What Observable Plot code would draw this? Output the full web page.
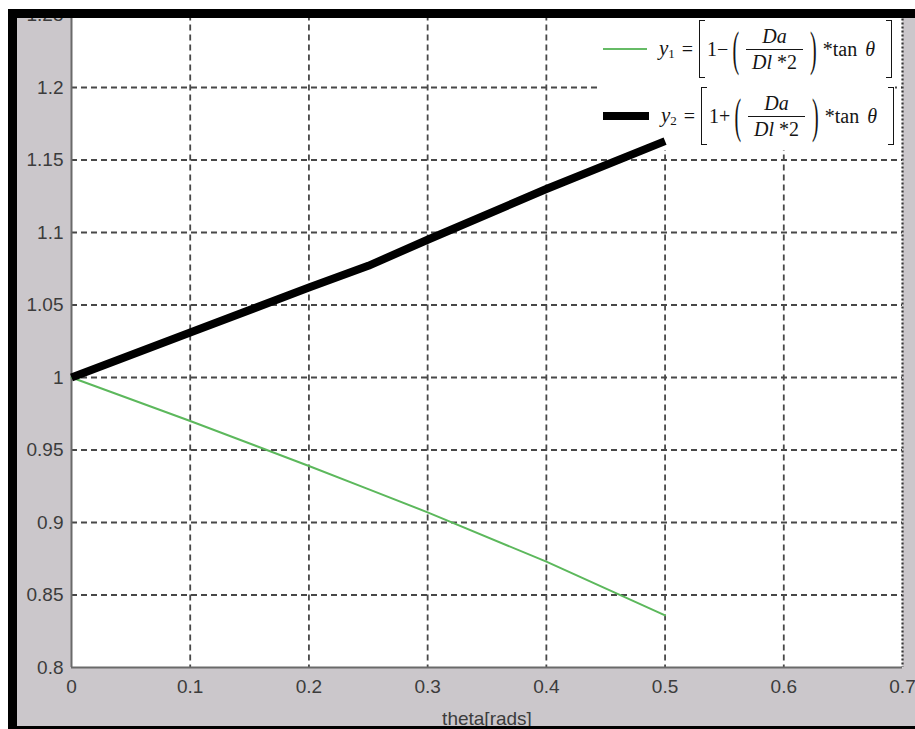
<!DOCTYPE html>
<html>
<head>
<meta charset="utf-8">
<script src="https://cdn.jsdelivr.net/npm/d3@7"></script>
<script src="https://cdn.jsdelivr.net/npm/@observablehq/plot@0.6"></script>
<style>
  html, body { margin: 0; padding: 0; background: white; width: 915px; height: 729px; overflow: hidden; }
  #chart, #lineLayer { position: absolute; left: 0; top: 0; }
  .ov { position: absolute; }
  #legend { position: absolute; left: 597px; top: 18px; width: 298px; height: 132px; background: white; }
  .row { position: absolute; left: 603px; height: 58px; display: flex; align-items: center;
         font-family: "Liberation Serif", "DejaVu Serif", serif; font-size: 20px; color: #151515; }
  .sw { display: inline-block; margin-right: 12px; }
  .lhs { margin-right: 7px; font-size: 21px; }
  .lhs sub { font-size: 13px; font-style: normal; vertical-align: -3px; }
  .eq { margin-right: 6px; }
  .brk { display: inline-block; width: 6px; height: 58px; border: 1.6px solid #151515; box-sizing: border-box; }
  .brk.l { border-right: none; margin-right: 2px; }
  .brk.r { border-left: none; margin-left: 11px; }
  .paren { display: inline-block; font-size: 20px; transform: scale(1, 2.4); margin: 0 4px; }
  .frac { display: inline-flex; flex-direction: column; align-items: center; margin: 0 5px; }
  .frac .num { border-bottom: 1px solid #151515; padding: 0 2px 2px 2px; width: 100%; text-align: center; line-height: 21px; }
  .frac .den { line-height: 21px; padding: 2px 4px 0 4px; }
  .tan { word-spacing: 3px; margin-left: 2px; }
</style>
</head>
<body>
<div id="chart"></div>
<div id="legend"></div>
<div class="row" style="top:20px">
  <span class="sw" style="width:44px;height:2px;background:#66bb66"></span>
  <span class="lhs"><i>y</i><sub>1</sub></span>
  <span class="eq">=</span>
  <span class="brk l"></span>
  <span>1−</span>
  <span class="paren">(</span>
  <span class="frac"><span class="num"><i>Da</i></span><span class="den"><i>Dl</i> *2</span></span>
  <span class="paren">)</span>
  <span class="tan">*tan <i>θ</i></span>
  <span class="brk r"></span>
</div>
<div class="row" style="top:87px">
  <span class="sw" style="width:46px;height:8px;background:#000"></span>
  <span class="lhs"><i>y</i><sub>2</sub></span>
  <span class="eq">=</span>
  <span class="brk l"></span>
  <span>1+</span>
  <span class="paren">(</span>
  <span class="frac"><span class="num"><i>Da</i></span><span class="den"><i>Dl</i> *2</span></span>
  <span class="paren">)</span>
  <span class="tan">*tan <i>θ</i></span>
  <span class="brk r"></span>
</div>
<div id="lineLayer"></div>
<!-- image border overlays -->
<div class="ov" style="left:0;top:0;width:915px;height:9px;background:white"></div>
<div class="ov" style="left:0;top:0;width:8px;height:729px;background:white"></div>
<div class="ov" style="left:8px;top:9px;width:907px;height:9px;background:#000"></div>
<div class="ov" style="left:8px;top:9px;width:9px;height:720px;background:#000"></div>
<div class="ov" style="left:8px;top:726px;width:907px;height:3px;background:#000"></div>
<script>
// ---- data ----
const theta = [0, 0.1, 0.2, 0.25, 0.3, 0.4, 0.5];
const y1Values = [1.0, 0.970, 0.939, 0.923, 0.907, 0.873, 0.836];
const y2Values = [1.0, 1.031, 1.062, 1.077, 1.095, 1.130, 1.163];
const xTicks = [0, 0.1, 0.2, 0.3, 0.4, 0.5, 0.6, 0.7];
const xTickLabels = ["0", "0.1", "0.2", "0.3", "0.4", "0.5", "0.6", "0.7"];
const yTicks = [0.8, 0.85, 0.9, 0.95, 1.0, 1.05, 1.1, 1.15, 1.2, 1.25];
const yTickLabels = ["0.8", "0.85", "0.9", "0.95", "1", "1.05", "1.1", "1.15", "1.2", "1.25"];
const xLabel = ["theta[rads]"];

const series1 = theta.map((t, i) => ({theta: t, y: y1Values[i]}));
const series2 = theta.map((t, i) => ({theta: t, y: y2Values[i]}));
const xGrid = xTicks.filter(t => t > 0 && t < 0.7);
const yGrid = yTicks.filter(t => t > 0.8);

const gridStyle = {stroke: "#484848", strokeOpacity: 1, strokeWidth: 1.8, strokeDasharray: "6,4"};

const layout = {
  width: 915,
  height: 729,
  marginLeft: 71,
  marginRight: 13,
  marginTop: 14.5,
  marginBottom: 62
};

const chart = Plot.plot({
  ...layout,
  style: {
    background: "#cbc7cb",
    fontFamily: "'Liberation Sans', Arial, sans-serif",
    fontSize: "19px",
    color: "#3c3c3c"
  },
  x: {
    domain: [0, 0.7],
    ticks: xTicks,
    tickSize: 0,
    tickPadding: 12,
    tickFormat: d => xTickLabels[xTicks.indexOf(d)],
    label: null
  },
  y: {
    domain: [0.8, 1.25],
    ticks: yTicks,
    tickSize: 0,
    tickPadding: 8,
    tickFormat: d => yTickLabels[yTicks.indexOf(d)],
    label: null
  },
  marks: [
    Plot.frame({fill: "white", stroke: "none"}),
    Plot.ruleX(xGrid, gridStyle),
    Plot.ruleY(yGrid, gridStyle),
    Plot.ruleX([0.7], {stroke: "#333", strokeWidth: 2.2, strokeDasharray: "2,2"}),
    Plot.ruleX([0], {stroke: "#6a6a6a", strokeWidth: 2}),
    Plot.ruleY([0.8], {stroke: "#6a6a6a", strokeWidth: 2}),
    Plot.line(series1, {x: "theta", y: "y", stroke: "#5cb85c", strokeWidth: 2}),
    Plot.text(xLabel, {frameAnchor: "bottom", dy: 57, fontSize: 19, fill: "#3c3c3c"})
  ]
});
document.getElementById("chart").appendChild(chart);

// the thick y2 line is drawn on a transparent layer above the legend box
const lineLayer = Plot.plot({
  ...layout,
  style: {background: "transparent"},
  x: {domain: [0, 0.7], axis: null},
  y: {domain: [0.8, 1.25], axis: null},
  marks: [
    Plot.line(series2, {x: "theta", y: "y", stroke: "#000", strokeWidth: 8, strokeLinecap: "butt", strokeLinejoin: "round"})
  ]
});
document.getElementById("lineLayer").appendChild(lineLayer);
</script>
</body>
</html>
